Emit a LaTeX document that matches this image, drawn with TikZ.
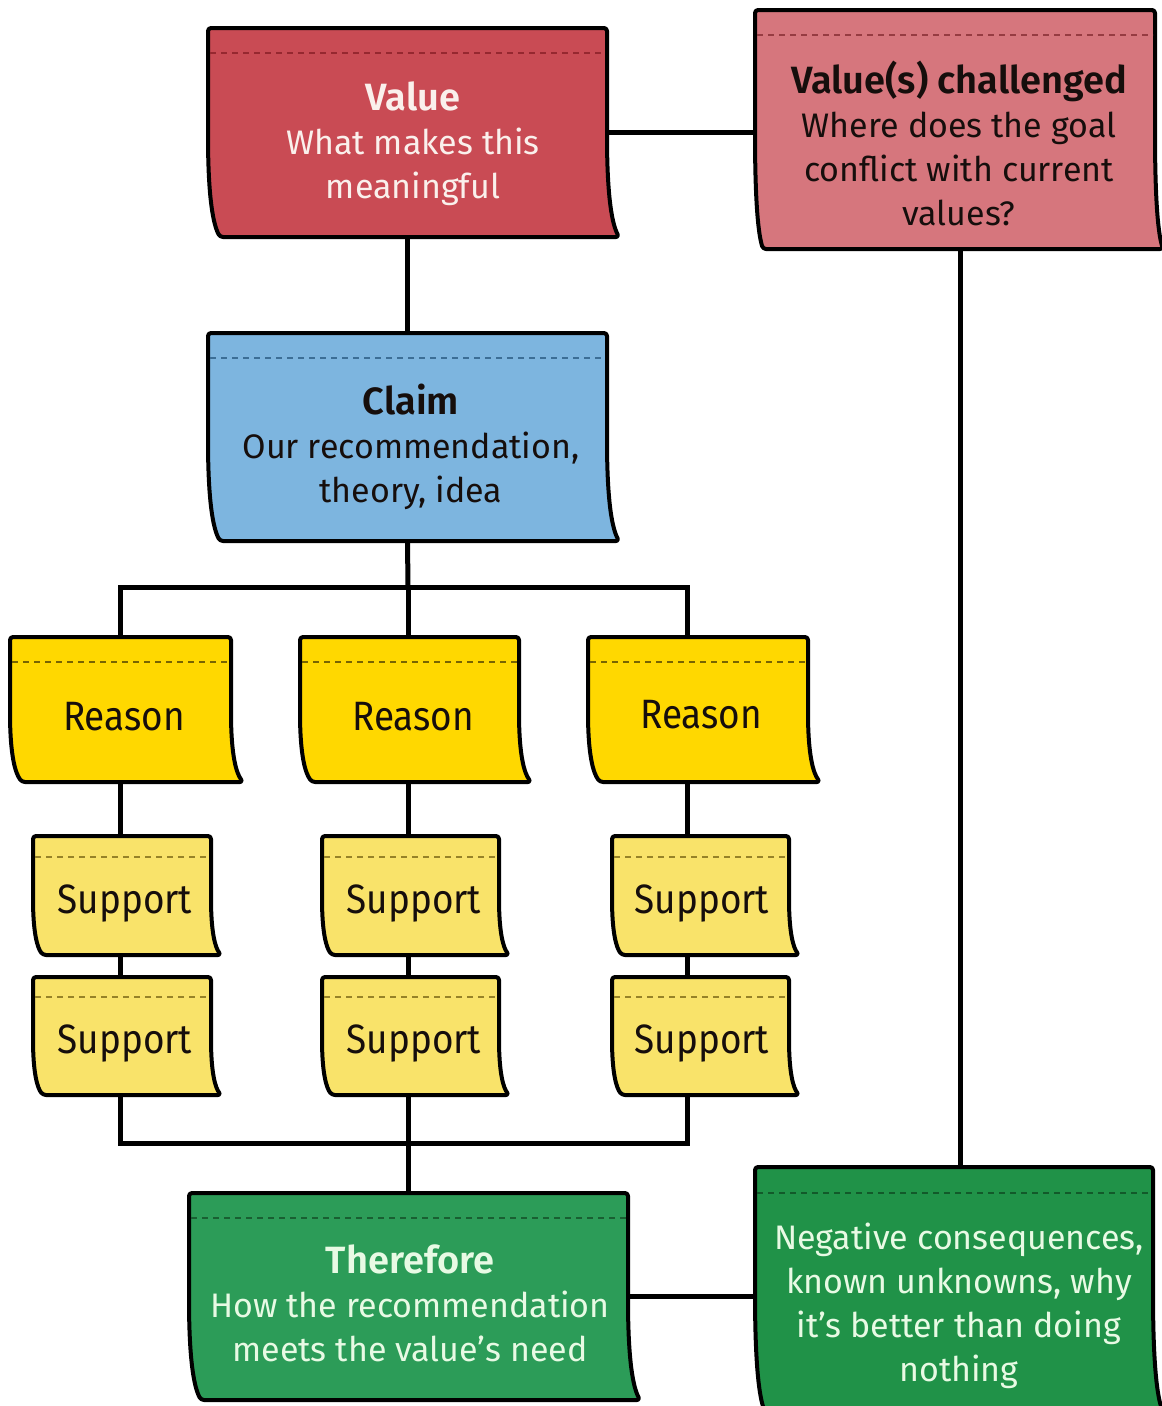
\documentclass[tikz,border=0pt]{standalone}
\usepackage{fontspec}
\setmainfont{Fira Sans}[BoldFont={Fira Sans SemiBold}]
\newfontfamily\tagfont{Fira Sans}[FakeStretch=0.9]
\usetikzlibrary{backgrounds}

\definecolor{valred}{RGB}{201,75,84}
\definecolor{valredline}{RGB}{150,40,48}
\definecolor{vcpink}{RGB}{214,118,125}
\definecolor{vcpinkline}{RGB}{150,60,66}
\definecolor{claimblue}{RGB}{125,181,223}
\definecolor{claimblueline}{RGB}{60,110,150}
\definecolor{reasonyel}{RGB}{255,216,0}
\definecolor{reasonyelline}{RGB}{120,100,0}
\definecolor{supportyel}{RGB}{249,227,106}
\definecolor{supportyelline}{RGB}{150,130,40}
\definecolor{thgreen}{RGB}{44,156,88}
\definecolor{thgreenline}{RGB}{25,95,50}
\definecolor{neggreen}{RGB}{32,146,72}
\definecolor{neggreenline}{RGB}{18,90,42}
\definecolor{lighttext}{RGB}{250,240,236}
\definecolor{minttext}{RGB}{232,250,228}
\definecolor{darktext}{RGB}{22,14,12}

\tikzset{
  note/.style={line width=4pt, draw=black, rounded corners=3pt, line join=round},
  header/.style={line width=2pt, dash pattern=on 6pt off 5pt},
  box/.style={draw=none, inner sep=0pt, rectangle},
  wire/.style={line width=5pt, draw=black, line cap=rect},
  red paper/.style={fill=valred},      red header/.style={draw=valredline},
  pink paper/.style={fill=vcpink},     pink header/.style={draw=vcpinkline},
  blue paper/.style={fill=claimblue},  blue header/.style={draw=claimblueline},
  reason paper/.style={fill=reasonyel}, reason header/.style={draw=reasonyelline},
  support paper/.style={fill=supportyel}, support header/.style={draw=supportyelline},
  green paper/.style={fill=thgreen},   green header/.style={draw=thgreenline},
  dgreen paper/.style={fill=neggreen}, dgreen header/.style={draw=neggreenline},
  bigtext/.style={align=center, inner sep=0pt, font=\fontsize{34}{44}\selectfont},
  tagtext/.style={inner sep=0pt, anchor=base, text=darktext, font=\tagfont\fontsize{41}{44}\selectfont},
}

% sticky note: #1 name, #2 kind, #3 x0, #4 y0, #5 x1, #6 y1, #7 curl, #8 header drop
\newcommand\sticky[8]{%
  \pgfmathsetmacro\nh{#6-#4}%
  \filldraw[note, #2 paper] (#3,#4) -- (#5,#4) -- (#5,{#4+0.5*\nh})
    .. controls (#5,{#4+0.82*\nh}) and ({#5+0.45*#7},{#6-0.06*\nh}) .. ({#5+#7},#6)
    -- ({#3+#7},#6)
    .. controls ({#3+0.45*#7},{#6-0.06*\nh}) and (#3,{#4+0.82*\nh}) .. (#3,{#4+0.5*\nh})
    -- cycle;
  \draw[header, #2 header] ({#3+2},{#4+#8}) -- ({#5-2},{#4+#8});
  \node[box, minimum width={#5-#3}, minimum height={#6-#4}] (#1)
    at ({(#3+#5)/2},{(#4+#6)/2}) {};
}

\newcommand\ttl[1]{{\fontsize{38}{44}\selectfont\bfseries #1}}

\begin{document}
\begin{tikzpicture}[x=1pt, y=-1pt]
\useasboundingbox (0,0) rectangle (1162,1406);

% notes
\sticky{val}{red}{208}{28}{607}{237}{12}{25}
\sticky{vc}{pink}{755}{10}{1155}{249}{8}{25}
\sticky{claim}{blue}{208}{333}{607}{541}{12}{25}
\sticky{r1}{reason}{10}{637}{231}{782}{12}{25}
\sticky{r2}{reason}{300}{637}{519}{782}{12}{25}
\sticky{r3}{reason}{588}{637}{808}{782}{12}{25}
\sticky{s1a}{support}{33}{836}{211}{955}{10}{21}
\sticky{s1b}{support}{33}{977}{211}{1095}{10}{20}
\sticky{s2a}{support}{322}{836}{499}{955}{10}{21}
\sticky{s2b}{support}{322}{977}{499}{1095}{10}{20}
\sticky{s3a}{support}{612}{836}{789}{955}{10}{21}
\sticky{s3b}{support}{612}{977}{789}{1095}{10}{20}
\sticky{thf}{green}{189}{1193}{628}{1400}{12}{25}
\sticky{neg}{dgreen}{755}{1167}{1153}{1412}{10}{26}

% texts
\node[bigtext, text=lighttext] (val-t) at (413,144)
  {\ttl{Value}\\What makes this\\meaningful};
\node[bigtext, text=darktext] (vc-t) at (959,143)
  {\ttl{Value(s) challenged}\\Where does the goal\\conflict with current\\values?};
\node[bigtext, text=darktext] (claim-t) at (411,447)
  {\ttl{Claim}\\Our recommendation,\\theory, idea};
\node[bigtext, text=minttext] (thf-t) at (410,1303)
  {\ttl{Therefore}\\How the recommendation\\meets the value’s need};
\node[bigtext, text=minttext] (neg-t) at (959,1306)
  {Negative consequences,\\known unknowns, why\\it’s better than doing\\nothing};

\node[tagtext] (r1-t) at (124,730) {Reason};
\node[tagtext] (r2-t) at (413,730) {Reason};
\node[tagtext] (r3-t) at (701,728) {Reason};
\node[tagtext] (s1a-t) at (125,913) {Support};
\node[tagtext] (s1b-t) at (125,1053) {Support};
\node[tagtext] (s2a-t) at (414,913) {Support};
\node[tagtext] (s2b-t) at (414,1053) {Support};
\node[tagtext] (s3a-t) at (702,913) {Support};
\node[tagtext] (s3b-t) at (702,1053) {Support};

% branch points of the two bars
\coordinate (tb1) at (120,587);
\coordinate (tb2) at (408,587);
\coordinate (tb3) at (687,587);
\coordinate (bb1) at (120,1143);
\coordinate (bb2) at (408,1143);
\coordinate (bb3) at (687,1143);

\begin{scope}[on background layer]
  \draw[wire] (val.east) -- (val.east -| vc.west);
  \draw[wire] (val.south) -- (claim.north);
  \draw[wire] ([xshift=5pt]vc.south) -- ([xshift=5pt]vc.south |- neg.north);
  \draw[wire] (claim.south) -- (tb2);
  \draw[wire] (tb1) -- (tb3);
  \draw[wire] (tb1) -- (tb1 |- r1.north);
  \draw[wire] (tb2) -- (tb2 |- r2.north);
  \draw[wire] (tb3) -- (tb3 |- r3.north);
  \draw[wire] (tb1 |- r1.south) -- (tb1 |- s1a.north);
  \draw[wire] (tb2 |- r2.south) -- (tb2 |- s2a.north);
  \draw[wire] (tb3 |- r3.south) -- (tb3 |- s3a.north);
  \draw[wire] (tb1 |- s1a.south) -- (tb1 |- s1b.north);
  \draw[wire] (tb2 |- s2a.south) -- (tb2 |- s2b.north);
  \draw[wire] (tb3 |- s3a.south) -- (tb3 |- s3b.north);
  \draw[wire] (tb1 |- s1b.south) -- (bb1);
  \draw[wire] (tb2 |- s2b.south) -- (bb2);
  \draw[wire] (tb3 |- s3b.south) -- (bb3);
  \draw[wire] (bb1) -- (bb3);
  \draw[wire] (bb2) -- (bb2 |- thf.north);
  \draw[wire] (thf.east) -- (thf.east -| neg.west);
\end{scope}
\end{tikzpicture}
\end{document}
